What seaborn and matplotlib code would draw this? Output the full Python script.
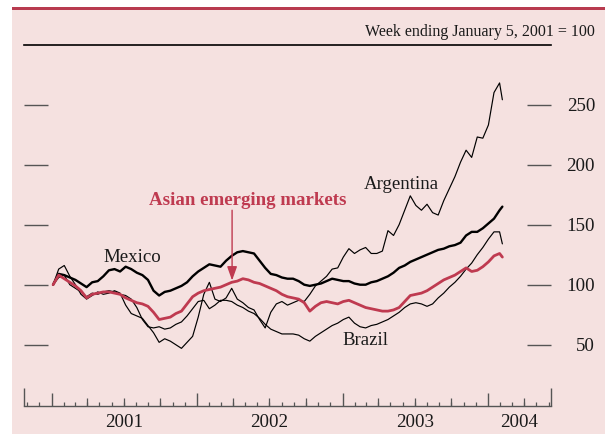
import matplotlib
matplotlib.use("Agg")
import matplotlib.pyplot as plt
import matplotlib.dates as mdates
from matplotlib.patches import Rectangle
import pandas as pd
import seaborn as sns

# Biweekly observations, week ending January 5, 2001 = 100
dates = list(pd.date_range("2001-01-05", "2004-01-30", freq="14D")) + [pd.Timestamp("2004-02-06")]

mexico = [100, 109, 108, 106, 104, 101, 98, 102, 103, 107,
          112, 113, 111, 115, 113, 110, 108, 104, 95, 91,
          94, 95, 97, 99, 102, 107, 111, 114, 117, 116,
          115, 120, 124, 127, 128, 127, 126, 120, 114, 109,
          108, 106, 105, 105, 103, 100, 99, 100, 101, 103,
          105, 104, 103, 103, 101, 100, 100, 102, 103, 105,
          107, 110, 114, 116, 119, 121, 123, 125, 127, 129,
          130, 132, 133, 135, 141, 144, 144, 147, 151, 155,
          162, 165]

asia = [100, 108, 105, 102, 99, 95, 89, 92, 93, 94,
        94, 93, 92, 89, 87, 85, 84, 82, 77, 71,
        72, 73, 76, 78, 84, 90, 93, 95, 96, 97,
        98, 100, 102, 103, 105, 104, 102, 101, 99, 97,
        95, 92, 90, 89, 88, 85, 78, 82, 85, 86,
        85, 84, 86, 87, 85, 83, 81, 80, 79, 78,
        78, 79, 81, 86, 91, 92, 93, 95, 98, 101,
        104, 106, 108, 111, 114, 111, 112, 115, 119, 124,
        126, 123]

argentina = [100, 113, 116, 107, 100, 92, 88, 91, 94, 92,
             93, 95, 93, 83, 76, 74, 72, 66, 60, 52,
             55, 53, 50, 47, 52, 57, 73, 92, 102, 88,
             86, 89, 97, 88, 85, 81, 79, 71, 64, 77,
             84, 86, 83, 85, 87, 86, 92, 99, 103, 107,
             113, 114, 123, 130, 126, 129, 131, 126, 126, 128,
             145, 141, 150, 162, 174, 166, 162, 167, 160, 158,
             170, 180, 190, 202, 212, 206, 223, 222, 233, 260,
             268, 254]

brazil = [100, 106, 108, 100, 97, 94, 90, 93, 92, 94,
          95, 94, 92, 91, 88, 81, 71, 65, 64, 65,
          63, 64, 67, 69, 74, 80, 86, 87, 80, 83,
          87, 87, 86, 83, 81, 78, 76, 72, 67, 63,
          61, 59, 59, 59, 58, 55, 53, 57, 60, 63,
          66, 68, 71, 73, 68, 65, 64, 66, 67, 69,
          71, 74, 77, 81, 84, 85, 84, 82, 84, 89,
          93, 98, 102, 107, 113, 118, 125, 131, 138, 144,
          144, 134]

year_labels = ["2001", "2002", "2003", "2004"]
right_ticks = [50, 100, 150, 200, 250]

PINK = "#f5e1e0"
RED = "#bf3a50"
INK = "#1a1a1a"
AXIS = "#555555"

sns.set_style("white")
plt.rcParams["font.family"] = ["Liberation Serif", "DejaVu Serif"]

df = pd.DataFrame({"date": dates, "Mexico": mexico, "Asia": asia,
                   "Argentina": argentina, "Brazil": brazil})
long = df.melt(id_vars="date", var_name="series", value_name="value")

W, H = 605, 434
fig = plt.figure(figsize=(W / 100, H / 100), dpi=100, facecolor="white")
fig.patches.append(Rectangle((12 / W, 0), 1 - 12 / W, 1 - 9 / H, transform=fig.transFigure,
                             facecolor=PINK, edgecolor="none", zorder=-10))
fig.patches.append(Rectangle((12 / W, 1 - 9.5 / H), 1 - 12 / W, 2.5 / H, transform=fig.transFigure,
                             facecolor="#b83b4f", edgecolor="none", zorder=-9))

ax = fig.add_axes([24 / W, 1 - 406 / H, (551 - 24) / W, (406 - 45) / H])
ax.set_facecolor("none")

styles = [("Argentina", "black", 0.85, 2),
          ("Brazil", "black", 0.85, 2),
          ("Mexico", "black", 1.7, 3),
          ("Asia", RED, 2.0, 4)]
for name, col, lw, z in styles:
    sns.lineplot(data=long[long["series"] == name], x="date", y="value", color=col,
                 linewidth=lw, ax=ax, legend=False, zorder=z)

xmin, xmax = pd.Timestamp("2000-10-24"), pd.Timestamp("2004-06-07")
ax.set_xlim(xmin, xmax)
ax.set_ylim(-1, 299.6)
ax.set_xlabel("")
ax.set_ylabel("")

# spines
for s in ["left", "right"]:
    ax.spines[s].set_visible(False)
ax.spines["top"].set_color("black")
ax.spines["top"].set_linewidth(1.2)
ax.spines["bottom"].set_color(AXIS)
ax.spines["bottom"].set_linewidth(1.0)

# y ticks: inward on both sides, labels on the right only
ax.set_yticks(right_ticks)
ax.tick_params(axis="y", which="major", direction="in", length=24 * 0.72, width=1.0,
               color=AXIS, left=True, right=True, labelleft=False, labelright=True,
               pad=44 * 0.72, labelsize=13.6, labelcolor=INK)
for lab in ax.get_yticklabels():
    lab.set_horizontalalignment("right")

# x ticks: years (major), months (minor), quarters and ends drawn as bars
ax.xaxis.set_major_locator(mdates.YearLocator())
ax.xaxis.set_minor_locator(mdates.MonthLocator())
ax.tick_params(axis="x", which="major", direction="in", length=13 * 0.72, width=1.0,
               color=AXIS, bottom=True, top=False, labelbottom=False)
ax.tick_params(axis="x", which="minor", direction="in", length=4 * 0.72, width=0.9,
               color=AXIS, bottom=True, top=False, labelbottom=False)
quarters = [d for d in pd.date_range("2001-01-01", "2004-06-01", freq="QS") if d.month != 1]
xt = ax.get_xaxis_transform()
ax.vlines(mdates.date2num(quarters), 0, 8 / 361, transform=xt, color=AXIS, lw=0.9)
ax.vlines(mdates.date2num([xmin, xmax]), 0, 18 / 361, transform=xt, color=AXIS, lw=1.0,
          clip_on=False)

label_pos = [pd.Timestamp("2001-07-02"), pd.Timestamp("2002-07-02"),
             pd.Timestamp("2003-07-02"), pd.Timestamp("2004-03-19")]
for d, t in zip(label_pos, year_labels):
    ax.text(mdates.date2num(d), -0.0573, t, transform=xt, ha="center", va="baseline",
            fontsize=13.6, color=INK)

# series labels
ax.text(pd.Timestamp("2001-07-23"), 119.2, "Mexico", ha="center", va="baseline",
        fontsize=13.6, color=INK)
ax.text(pd.Timestamp("2003-05-28"), 179.6, "Argentina", ha="center", va="baseline",
        fontsize=13.6, color=INK)
ax.text(pd.Timestamp("2003-02-28"), 49.9, "Brazil", ha="center", va="baseline",
        fontsize=13.6, color=INK)
ax.text(pd.Timestamp("2002-05-08"), 166.4, "Asian emerging markets", ha="center",
        va="baseline", fontsize=13.6, fontweight="bold", color=RED)
arrow_x = mdates.date2num(pd.Timestamp("2002-03-30"))
ax.annotate("", xy=(arrow_x, 103.5), xytext=(arrow_x, 162),
            arrowprops=dict(arrowstyle="-|>,head_length=0.7,head_width=0.25",
                            color=RED, lw=1.0, shrinkA=0, shrinkB=0, mutation_scale=12))

fig.text(595 / W, 1 - 35.5 / H, "Week ending January 5, 2001 = 100", ha="right",
         va="baseline", fontsize=11.5, color=INK)

fig.savefig("out.png", dpi=100)
